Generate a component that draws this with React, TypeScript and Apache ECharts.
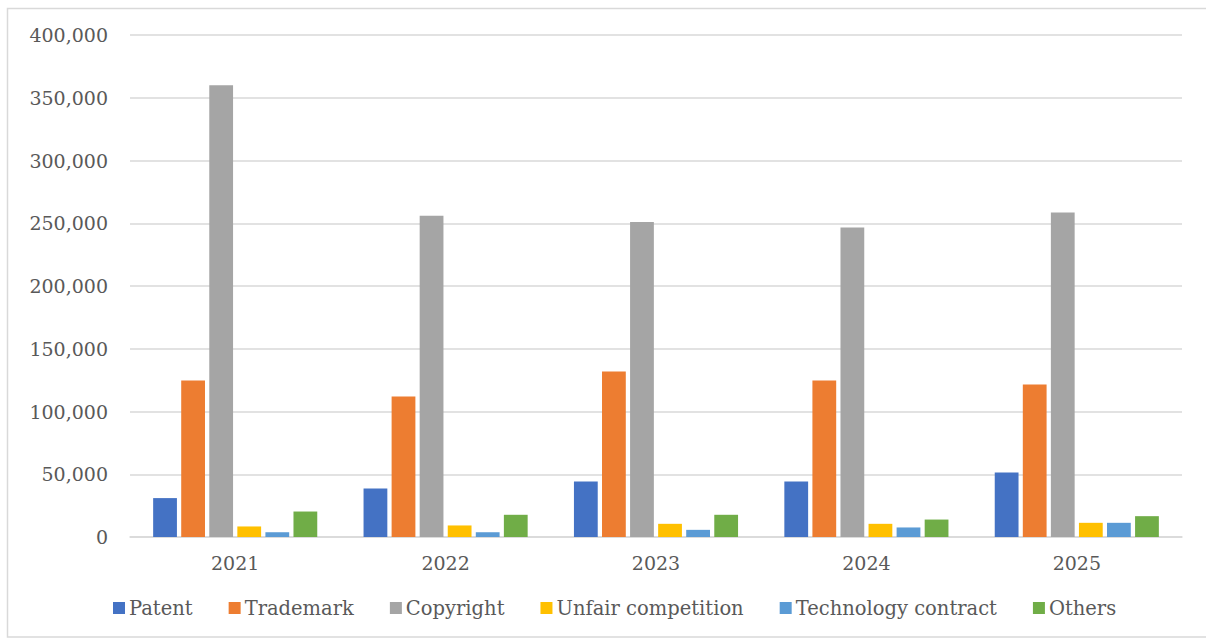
import React, { useEffect, useRef } from "react";
import * as echarts from "echarts";

const categories = ["2021", "2022", "2023", "2024", "2025"];
const patent = [31000, 38600, 44200, 44200, 51400];
const trademark = [124700, 112000, 131900, 124700, 121500];
const copyright = [360000, 256000, 251000, 246600, 258600];
const unfair = [8400, 9200, 10500, 10500, 11300];
const technology = [3800, 3800, 5700, 7600, 11300];
const others = [20300, 17700, 17700, 13900, 16600];

const seriesNames = [
  "Patent",
  "Trademark",
  "Copyright",
  "Unfair competition",
  "Technology contract",
  "Others",
];
const seriesData = [patent, trademark, copyright, unfair, technology, others];
const colors = ["#4472C4", "#ED7D31", "#A5A5A5", "#FFC000", "#5B9BD5", "#70AD47"];

const FONT = "DejaVu Serif";

export default function App() {
  const ref = useRef<HTMLDivElement>(null);
  useEffect(() => {
    if (!ref.current) return;
    const chart = echarts.init(ref.current, undefined, { renderer: "svg" });
    chart.setOption({
      animation: false,
      backgroundColor: "#ffffff",
      color: colors,
      graphic: [
        {
          type: "rect",
          shape: { x: 7.5, y: 8.5, width: 1210, height: 628.5 },
          style: { fill: "none", stroke: "#D9D9D9", lineWidth: 1.5 },
          silent: true,
        },
      ],
      grid: { left: 130, right: 24, top: 35, bottom: 102, containLabel: false },
      legend: {
        left: 108,
        top: 593,
        itemWidth: 12,
        itemHeight: 12,
        itemGap: 36,
        icon: "rect",
        textStyle: { fontFamily: FONT, fontSize: 19.5, color: "#595959", padding: [0, 0, 0, -1] },
        data: seriesNames,
      },
      xAxis: {
        type: "category",
        data: categories,
        axisLine: { lineStyle: { color: "#D9D9D9", width: 1.5 } },
        axisTick: { show: false },
        axisLabel: { fontFamily: FONT, fontSize: 19, color: "#595959", margin: 16 },
      },
      yAxis: {
        type: "value",
        min: 0,
        max: 400000,
        interval: 50000,
        axisLine: { show: false },
        axisTick: { show: false },
        splitLine: { lineStyle: { color: "#D9D9D9", width: 1.5 } },
        axisLabel: {
          fontFamily: FONT,
          fontSize: 19,
          color: "#595959",
          margin: 22,
          formatter: (v: number) => v.toLocaleString("en-US"),
        },
      },
      series: seriesNames.map((name, i) => ({
        name,
        type: "bar",
        data: seriesData[i],
        barGap: "18%",
        barCategoryGap: "22%",
        itemStyle: { color: colors[i] },
      })),
    });
    return () => chart.dispose();
  }, []);
  return (
    <div
      ref={ref}
      style={{ position: "fixed", left: 0, top: 0, width: 1206, height: 639 }}
    />
  );
}
